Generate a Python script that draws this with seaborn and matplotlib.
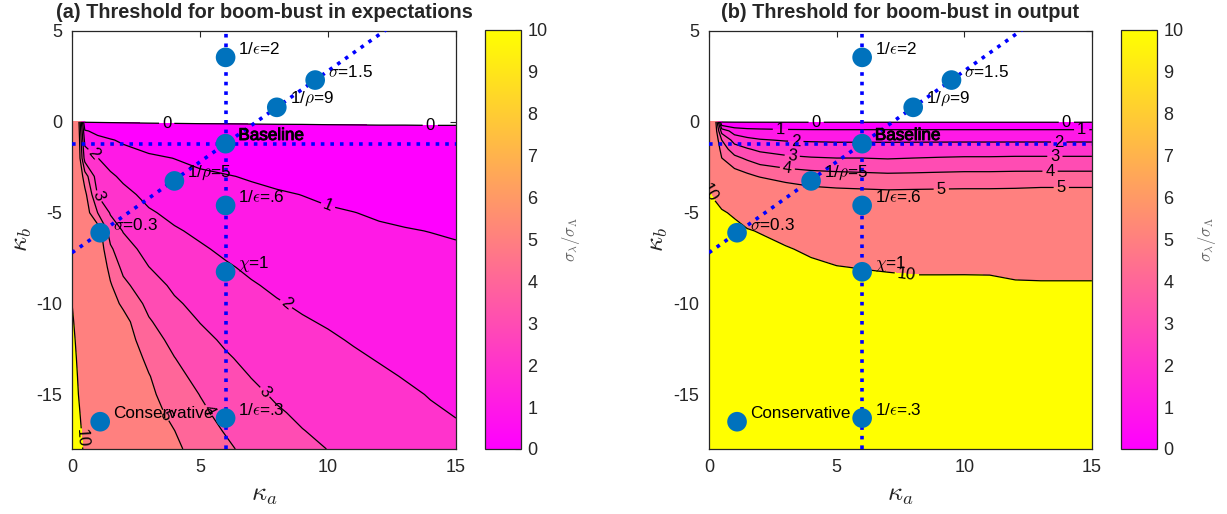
import matplotlib
matplotlib.use("Agg")
import numpy as np
import matplotlib.pyplot as plt
import matplotlib.patheffects as pe
import seaborn as sns
from matplotlib.colors import Normalize
from matplotlib.cm import ScalarMappable

# ---------------- data ----------------
ka_grid = [0, 0.25, 0.5, 1, 1.5, 2, 3, 4, 5, 6, 7, 8, 9, 10, 11, 12, 13, 14, 15]

kb_grid_a = [0, -0.5, -1, -2, -3, -4, -5, -6, -7, -8, -9, -10,
             -11, -12, -13, -14, -15, -16, -17, -18]
ratio_expect = [
    [6.0, 5.5, -0.05, -0.05, -0.05, -0.05, -0.05, -0.05, -0.05, -0.05, -0.05, -0.05, -0.05, -0.05, -0.05, -0.05, -0.05, -0.05, -0.05],
    [6.1, 5.6, 1.1, 0.75, 0.56, 0.44, 0.31, 0.25, 0.2, 0.18, 0.16, 0.14, 0.13, 0.11, 0.10, 0.09, 0.09, 0.08, 0.08],
    [6.2, 5.7, 1.7, 1.26, 1.06, 0.88, 0.63, 0.49, 0.41, 0.35, 0.31, 0.28, 0.25, 0.22, 0.20, 0.19, 0.18, 0.17, 0.16],
    [6.5, 5.8, 2.6, 2.02, 1.63, 1.39, 1.13, 0.99, 0.82, 0.71, 0.63, 0.56, 0.5, 0.44, 0.40, 0.37, 0.35, 0.33, 0.31],
    [6.8, 6.0, 4.5, 2.47, 2.14, 1.84, 1.45, 1.26, 1.13, 1.04, 0.94, 0.83, 0.75, 0.67, 0.61, 0.56, 0.53, 0.5, 0.47],
    [7.1, 6.3, 5.3, 2.95, 2.53, 2.24, 1.77, 1.54, 1.37, 1.25, 1.15, 1.07, 0.99, 0.89, 0.81, 0.75, 0.70, 0.66, 0.63],
    [7.5, 6.5, 5.6, 4.0, 2.92, 2.6, 2.09, 1.81, 1.61, 1.46, 1.33, 1.23, 1.15, 1.07, 1.01, 0.93, 0.88, 0.83, 0.78],
    [7.9, 6.85, 5.9, 5.6, 3.53, 2.96, 2.39, 2.08, 1.86, 1.67, 1.51, 1.39, 1.3, 1.22, 1.14, 1.08, 1.03, 0.99, 0.94],
    [8.3, 7.2, 6.2, 5.8, 4.16, 3.36, 2.70, 2.33, 2.09, 1.87, 1.70, 1.56, 1.45, 1.36, 1.28, 1.21, 1.15, 1.10, 1.06],
    [8.8, 7.55, 6.5, 6.0, 4.68, 3.76, 3.01, 2.59, 2.31, 2.08, 1.88, 1.72, 1.61, 1.51, 1.41, 1.33, 1.27, 1.21, 1.16],
    [9.4, 7.9, 6.8, 6.2, 5.1, 4.24, 3.37, 2.85, 2.53, 2.28, 2.06, 1.89, 1.76, 1.65, 1.54, 1.46, 1.38, 1.32, 1.26],
    [10.0, 8.25, 7.1, 6.4, 5.4, 4.82, 3.74, 3.12, 2.76, 2.48, 2.25, 2.05, 1.91, 1.79, 1.68, 1.58, 1.50, 1.43, 1.36],
    [10.5, 8.6, 7.4, 6.6, 5.7, 5.35, 4.1, 3.42, 2.98, 2.68, 2.43, 2.22, 2.06, 1.94, 1.81, 1.71, 1.62, 1.54, 1.46],
    [11.0, 8.95, 7.7, 6.8, 6.0, 5.55, 4.43, 3.73, 3.23, 2.88, 2.61, 2.39, 2.23, 2.09, 1.95, 1.83, 1.73, 1.64, 1.57],
    [11.5, 9.3, 8.0, 7.0, 6.3, 5.75, 4.77, 4.02, 3.48, 3.09, 2.8, 2.56, 2.39, 2.24, 2.09, 1.96, 1.85, 1.75, 1.67],
    [12.0, 9.65, 8.3, 7.2, 6.6, 5.95, 5.05, 4.27, 3.73, 3.30, 2.98, 2.73, 2.55, 2.39, 2.24, 2.1, 1.97, 1.86, 1.77],
    [12.5, 10.0, 8.6, 7.4, 6.9, 6.15, 5.2, 4.51, 3.98, 3.51, 3.17, 2.9, 2.71, 2.54, 2.38, 2.27, 2.1, 1.97, 1.87],
    [13.0, 10.35, 8.9, 7.6, 7.2, 6.35, 5.35, 4.76, 4.18, 3.72, 3.35, 3.08, 2.87, 2.70, 2.53, 2.43, 2.25, 2.07, 1.97],
    [13.5, 10.7, 9.2, 7.8, 7.5, 6.55, 5.5, 5.01, 4.39, 3.94, 3.54, 3.28, 3.02, 2.85, 2.68, 2.6, 2.4, 2.17, 2.07],
    [14.0, 11.05, 9.5, 8.0, 7.8, 6.75, 5.65, 5.2, 4.59, 4.17, 3.72, 3.48, 3.15, 2.99, 2.82, 2.76, 2.55, 2.27, 2.17],
]

kb_grid_b = [0, -0.5, -1, -1.5, -2, -2.5, -3, -3.5, -4, -5, -6, -7, -8, -9,
             -10, -12, -14, -16, -18]
ratio_output = [
    [6.0, 5.5, -0.05, -0.05, -0.05, -0.05, -0.05, -0.05, -0.05, -0.05, -0.05, -0.05, -0.05, -0.05, -0.05, -0.05, -0.05, -0.05, -0.05],
    [6.3, 5.6, 2.6, 1.56, 1.36, 1.29, 1.21, 1.18, 1.17, 1.17, 1.17, 1.17, 1.17, 1.17, 1.17, 1.17, 1.17, 1.17, 1.17],
    [6.7, 5.8, 4.0, 2.6, 2.25, 2.07, 1.93, 1.89, 1.86, 1.86, 1.86, 1.86, 1.86, 1.86, 1.86, 1.86, 1.86, 1.86, 1.86],
    [7.2, 6.2, 4.5, 3.5, 3.08, 2.79, 2.56, 2.48, 2.44, 2.44, 2.42, 2.44, 2.47, 2.49, 2.49, 2.5, 2.5, 2.5, 2.5],
    [7.7, 6.7, 5.02, 4.25, 3.85, 3.5, 3.21, 3.07, 3.01, 3.01, 2.95, 3.01, 3.06, 3.1, 3.1, 3.13, 3.13, 3.13, 3.13],
    [8.2, 7.3, 5.93, 4.88, 4.53, 4.21, 3.93, 3.79, 3.71, 3.67, 3.6, 3.64, 3.69, 3.73, 3.73, 3.75, 3.75, 3.75, 3.75],
    [8.8, 8.0, 6.85, 5.77, 5.25, 4.93, 4.56, 4.39, 4.32, 4.26, 4.21, 4.23, 4.26, 4.29, 4.29, 4.32, 4.33, 4.33, 4.33],
    [9.5, 8.8, 7.78, 6.73, 6.1, 5.74, 5.22, 4.94, 4.84, 4.79, 4.74, 4.77, 4.79, 4.81, 4.81, 4.84, 4.89, 4.89, 4.89],
    [10.15, 9.6, 8.7, 7.69, 6.95, 6.56, 5.96, 5.58, 5.41, 5.34, 5.28, 5.3, 5.32, 5.34, 5.34, 5.35, 5.39, 5.39, 5.39],
    [11.15, 10.7, 10.3, 9.62, 8.64, 8.2, 7.43, 6.88, 6.59, 6.48, 6.39, 6.37, 6.38, 6.4, 6.4, 6.34, 6.36, 6.36, 6.36],
    [12.15, 11.7, 11.3, 10.8, 10.2, 9.84, 8.9, 8.18, 7.76, 7.61, 7.5, 7.44, 7.45, 7.46, 7.46, 7.33, 7.33, 7.33, 7.33],
    [13.15, 12.7, 12.3, 11.8, 11.2, 10.9, 10.25, 9.48, 8.94, 8.75, 8.61, 8.5, 8.51, 8.52, 8.52, 8.32, 8.3, 8.3, 8.3],
    [14.15, 13.7, 13.3, 12.8, 12.2, 11.9, 11.25, 10.6, 10.1, 9.89, 9.72, 9.57, 9.57, 9.58, 9.58, 9.31, 9.27, 9.27, 9.27],
    [15.15, 14.7, 14.3, 13.8, 13.2, 12.9, 12.25, 11.6, 11.1, 10.9, 10.75, 10.6, 10.6, 10.6, 10.55, 10.3, 10.25, 10.25, 10.25],
    [16.15, 15.7, 15.3, 14.8, 14.2, 13.9, 13.25, 12.6, 12.1, 11.9, 11.75, 11.6, 11.6, 11.6, 11.55, 11.3, 11.25, 11.25, 11.25],
    [18.15, 17.7, 17.3, 16.8, 16.2, 15.9, 15.25, 14.6, 14.1, 13.9, 13.75, 13.6, 13.6, 13.6, 13.55, 13.3, 13.25, 13.25, 13.25],
    [20.15, 19.7, 19.3, 18.8, 18.2, 17.9, 17.25, 16.6, 16.1, 15.9, 15.75, 15.6, 15.6, 15.6, 15.55, 15.3, 15.25, 15.25, 15.25],
    [22.15, 21.7, 21.3, 20.8, 20.2, 19.9, 19.25, 18.6, 18.1, 17.9, 17.75, 17.6, 17.6, 17.6, 17.55, 17.3, 17.25, 17.25, 17.25],
    [24.15, 23.7, 23.3, 22.8, 22.2, 21.9, 21.25, 20.6, 20.1, 19.9, 19.75, 19.6, 19.6, 19.6, 19.55, 19.3, 19.25, 19.25, 19.25],
]

contour_levels = [0, 1, 2, 3, 4, 5, 10]
band_top = 1000          # open upper band (>= 10)
color_limits = [0, 10]

point_names = ["1/$\\epsilon$=2", "$\\sigma$=1.5", "1/$\\rho$=9", "Baseline",
               "1/$\\rho$=5", "1/$\\epsilon$=.6", "$\\sigma$=0.3", "$\\chi$=1",
               "1/$\\epsilon$=.3", "Conservative"]
point_ka = [6.0, 9.5, 8.0, 6.0, 4.0, 6.0, 1.1, 6.0, 6.0, 1.1]
point_kb = [3.55, 2.3, 0.8, -1.2, -3.25, -4.6, -6.1, -8.25, -16.3, -16.5]

baseline_ka = 6.0
baseline_kb = -1.2
diag_slope = 1.0

label_pos_a = {0: [(3.7, 0.0), (14.0, 0.0)], 1: [(10.0, -4.6)],
               2: [(0.9, -1.7), (8.3, -10.1)], 3: [(1.0, -4.1), (7.5, -14.9)],
               4: [(5.3, -15.9)], 5: [(3.55, -16.2)], 10: [(0.25, -17.4)]}
label_pos_b = {0: [(4.2, 0.0), (14.0, 0.0)], 1: [(2.8, -0.4), (14.6, -0.4)],
               2: [(3.4, -1.1), (13.7, -1.1)], 3: [(3.25, -2.0), (13.55, -1.9)],
               4: [(3.05, -2.75), (13.36, -2.7)], 5: [(9.1, -3.7), (13.8, -3.6)],
               10: [(7.75, -8.4), (0.05, -3.6)]}

titles = ["(a) Threshold for boom-bust in expectations",
          "(b) Threshold for boom-bust in output"]

# ---------------- style ----------------
sns.set_style("white")
plt.rcParams["font.family"] = ["Liberation Sans", "DejaVu Sans"]
plt.rcParams["mathtext.fontset"] = "cm"
plt.rcParams["axes.unicode_minus"] = False

cmap = plt.get_cmap("spring")
norm = Normalize(vmin=color_limits[0], vmax=color_limits[1])
band_colors = [cmap(norm(l)) for l in contour_levels]
fill_levels = contour_levels + [band_top]

fig = plt.figure(figsize=(12.27, 5.14), dpi=100)
ax_pos = [[0.0587, 0.1265, 0.3129, 0.8132], [0.5778, 0.1265, 0.3121, 0.8132]]
cb_pos = [[0.3953, 0.1265, 0.0290, 0.8152], [0.9136, 0.1265, 0.0290, 0.8152]]

tick_col = "#262626"
panels = [(kb_grid_a, ratio_expect, label_pos_a), (kb_grid_b, ratio_output, label_pos_b)]

for i, (kb_grid, Z, lpos) in enumerate(panels):
    ax = fig.add_axes(ax_pos[i])
    X, Y = np.meshgrid(ka_grid, kb_grid)
    Zarr = np.array(Z)
    ax.contourf(X, Y, Zarr, levels=fill_levels, colors=band_colors)
    for lev in contour_levels:
        cs = ax.contour(X, Y, Zarr, levels=[lev], colors="k", linewidths=0.9)
        pts = lpos.get(lev, [])
        if pts:
            ax.clabel(cs, manual=pts, inline=True, fontsize=12,
                      fmt="%d", inline_spacing=3)

    # blue dotted reference lines
    ax.axvline(baseline_ka, color="#0000FF", ls=":", lw=2.6, zorder=4)
    ax.axhline(baseline_kb, color="#0000FF", ls=":", lw=2.6, zorder=4)
    xs = np.array([ka_grid[0], ka_grid[-1]])
    ax.plot(xs, baseline_kb + diag_slope * (xs - baseline_ka), color="#0000FF",
            ls=":", lw=2.6, zorder=4)

    sns.scatterplot(x=point_ka, y=point_kb, s=200, color="#0072BD",
                    edgecolor="none", ax=ax, zorder=5, legend=False)
    for name, px, py in zip(point_names, point_ka, point_kb):
        t = ax.text(px + 0.5, py + 0.45, name, fontsize=12.3, ha="left",
                    va="center", zorder=6, color="black")
        if name == "Baseline":
            t.set_path_effects([pe.withStroke(linewidth=0.7, foreground="black")])

    ax.set_xlim(0, 15)
    ax.set_ylim(-18, 5)
    ax.set_xticks([0, 5, 10, 15])
    ax.set_yticks([-15, -10, -5, 0, 5])
    ax.tick_params(direction="in", length=4, width=0.8, colors=tick_col,
                   labelsize=13, top=True, right=True, pad=7)
    for sp in ax.spines.values():
        sp.set_color(tick_col)
        sp.set_linewidth(0.9)
    ax.set_xlabel("$\\kappa_a$", fontsize=19, labelpad=5)
    ax.set_ylabel("$\\kappa_b$", fontsize=19, labelpad=2)
    ax.set_title(titles[i], fontsize=14.3, fontweight="bold", pad=9)

    cax = fig.add_axes(cb_pos[i])
    sm = ScalarMappable(norm=norm, cmap=cmap)
    cb = fig.colorbar(sm, cax=cax, ticks=range(0, 11))
    cb.ax.tick_params(direction="in", length=4, width=0.8, colors=tick_col,
                      labelsize=13, pad=5)
    cb.outline.set_edgecolor(tick_col)
    cb.outline.set_linewidth(0.9)
    cb.set_label("$\\sigma_\\lambda/\\sigma_\\Lambda$", fontsize=12,
                 color="#666666", labelpad=9)

fig.savefig("out.png", dpi=100)
